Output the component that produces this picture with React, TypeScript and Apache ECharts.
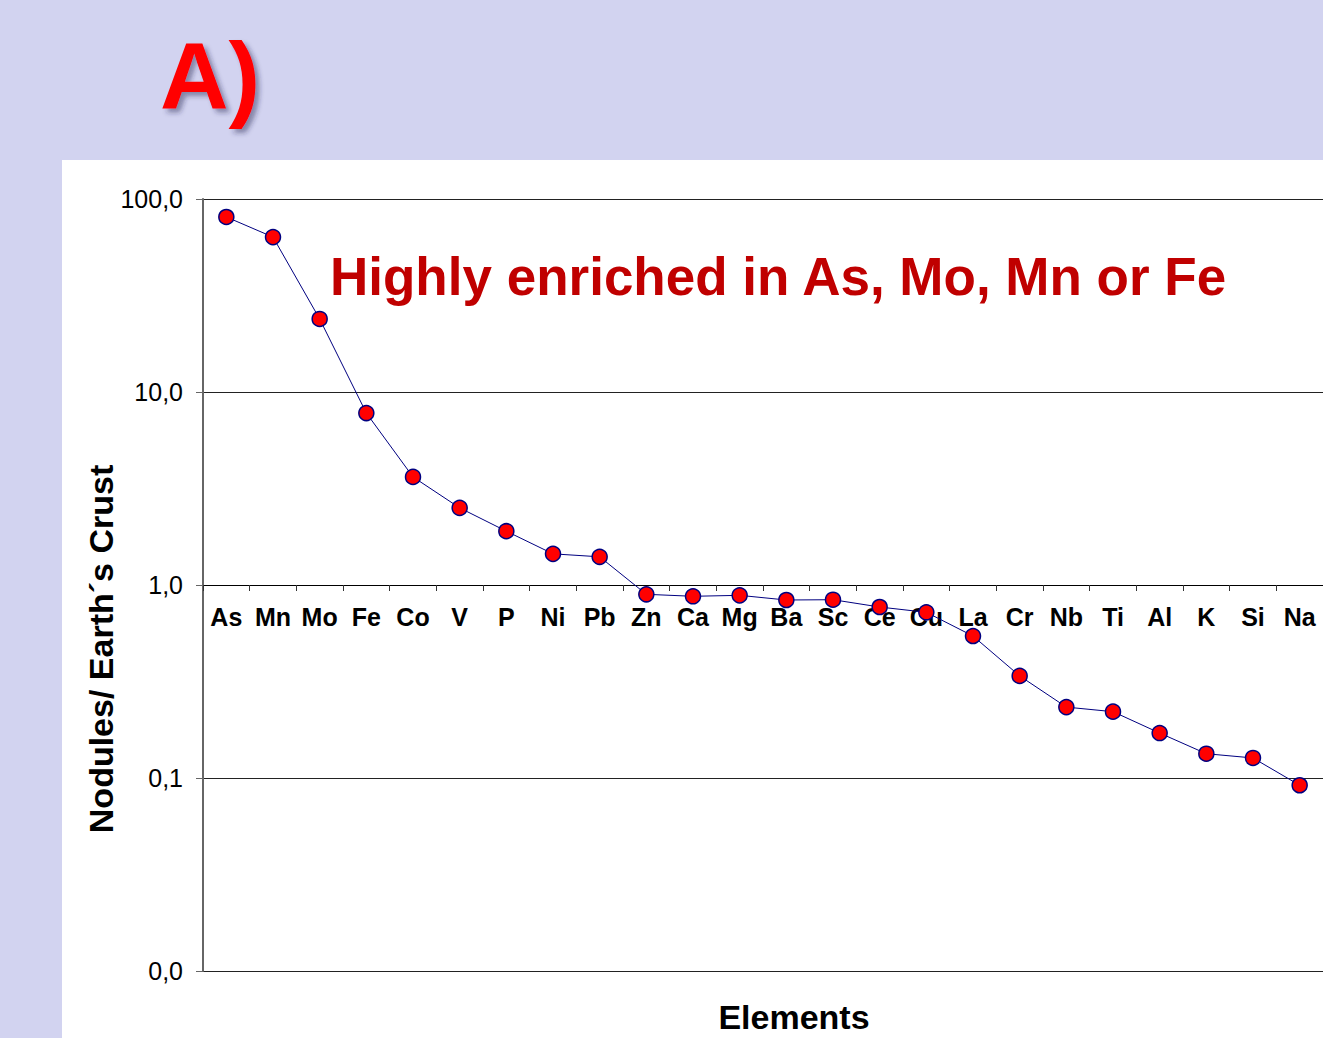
import React, { useEffect, useRef } from "react";
import * as echarts from "echarts";

const elements = ["As", "Mn", "Mo", "Fe", "Co", "V", "P", "Ni", "Pb", "Zn", "Ca", "Mg", "Ba", "Sc", "Ce", "Cu", "La", "Cr", "Nb", "Ti", "Al", "K", "Si", "Na"];
const ratios = [80.7, 63.5, 23.9, 7.78, 3.63, 2.51, 1.9, 1.45, 1.4, 0.895, 0.874, 0.884, 0.836, 0.839, 0.769, 0.722, 0.544, 0.338, 0.233, 0.2206, 0.171, 0.1336, 0.127, 0.0917];
const yMin = 0.01;
const yMax = 100;
const titleText = "Highly enriched in As, Mo, Mn or Fe";
const panelLabel = "A)";
const yTitle = "Nodules/ Earth´s Crust";
const xTitle = "Elements";

const FONT = "'Liberation Sans', Arial, sans-serif";

export default function App() {
  const ref = useRef<HTMLDivElement>(null);
  useEffect(() => {
    if (!ref.current) return;
    const chart = echarts.init(ref.current, undefined, { renderer: "svg" });
    const gridTop = 199;
    const gridBottomY = 971;
    const oneY = 585;
    chart.setOption({
      animation: false,
      backgroundColor: "#D2D3F0",
      textStyle: { fontFamily: FONT },
      grid: { left: 203, top: gridTop, right: 0, bottom: 1038 - gridBottomY, containLabel: false },
      xAxis: {
        type: "category",
        data: elements,
        position: "bottom",
        offset: -(gridBottomY - oneY),
        boundaryGap: true,
        axisLine: { show: true, lineStyle: { color: "#000", width: 1 } },
        axisTick: { show: true, length: 6, inside: false, alignWithLabel: false, lineStyle: { color: "#333" } },
        axisLabel: { show: true, interval: 0, margin: 19, color: "#000", fontWeight: "bold", fontSize: 25, fontFamily: FONT },
        splitLine: { show: false },
      },
      yAxis: {
        type: "log",
        logBase: 10,
        min: yMin,
        max: yMax,
        axisLine: { show: true, lineStyle: { color: "#666", width: 2 } },
        axisTick: { show: true, length: 7, lineStyle: { color: "#666" } },
        axisLabel: {
          margin: 20,
          color: "#000",
          fontSize: 25,
          fontFamily: FONT,
          formatter: (v: number) => v.toFixed(1).replace(".", ","),
        },
        splitLine: { show: true, lineStyle: { color: "#222", width: 1 } },
      },
      graphic: [
        { type: "rect", z: -10, shape: { x: 62, y: 160, width: 1261, height: 878 }, style: { fill: "#FFFFFF" }, silent: true },
        {
          type: "text",
          x: 160,
          y: 28,
          style: {
            text: panelLabel,
            fill: "#FF0000",
            font: `bold 95px ${FONT}`,
            textShadowColor: "rgba(40,40,80,0.45)",
            textShadowBlur: 5,
            textShadowOffsetX: 4,
            textShadowOffsetY: 4,
          },
        },
        {
          type: "text",
          x: 330,
          y: 276,
          style: { text: titleText, fill: "#C00000", font: `bold 53px ${FONT}`, verticalAlign: "middle" },
        },
        {
          type: "text",
          x: 101,
          y: 649,
          rotation: Math.PI / 2,
          style: { text: yTitle, fill: "#000", font: `bold 34px ${FONT}`, align: "center", verticalAlign: "middle" },
        },
        {
          type: "text",
          x: 794,
          y: 1017,
          style: { text: xTitle, fill: "#000", font: `bold 34px ${FONT}`, align: "center", verticalAlign: "middle" },
        },
      ],
      series: [
        {
          type: "line",
          data: ratios,
          symbol: "circle",
          symbolSize: 15,
          lineStyle: { color: "#000080", width: 1 },
          itemStyle: { color: "#FF0000", borderColor: "#000080", borderWidth: 1.5 },
          z: 5,
        },
      ],
    });
    return () => chart.dispose();
  }, []);
  return <div ref={ref} style={{ position: "absolute", left: 0, top: 0, width: 1323, height: 1038 }} />;
}
